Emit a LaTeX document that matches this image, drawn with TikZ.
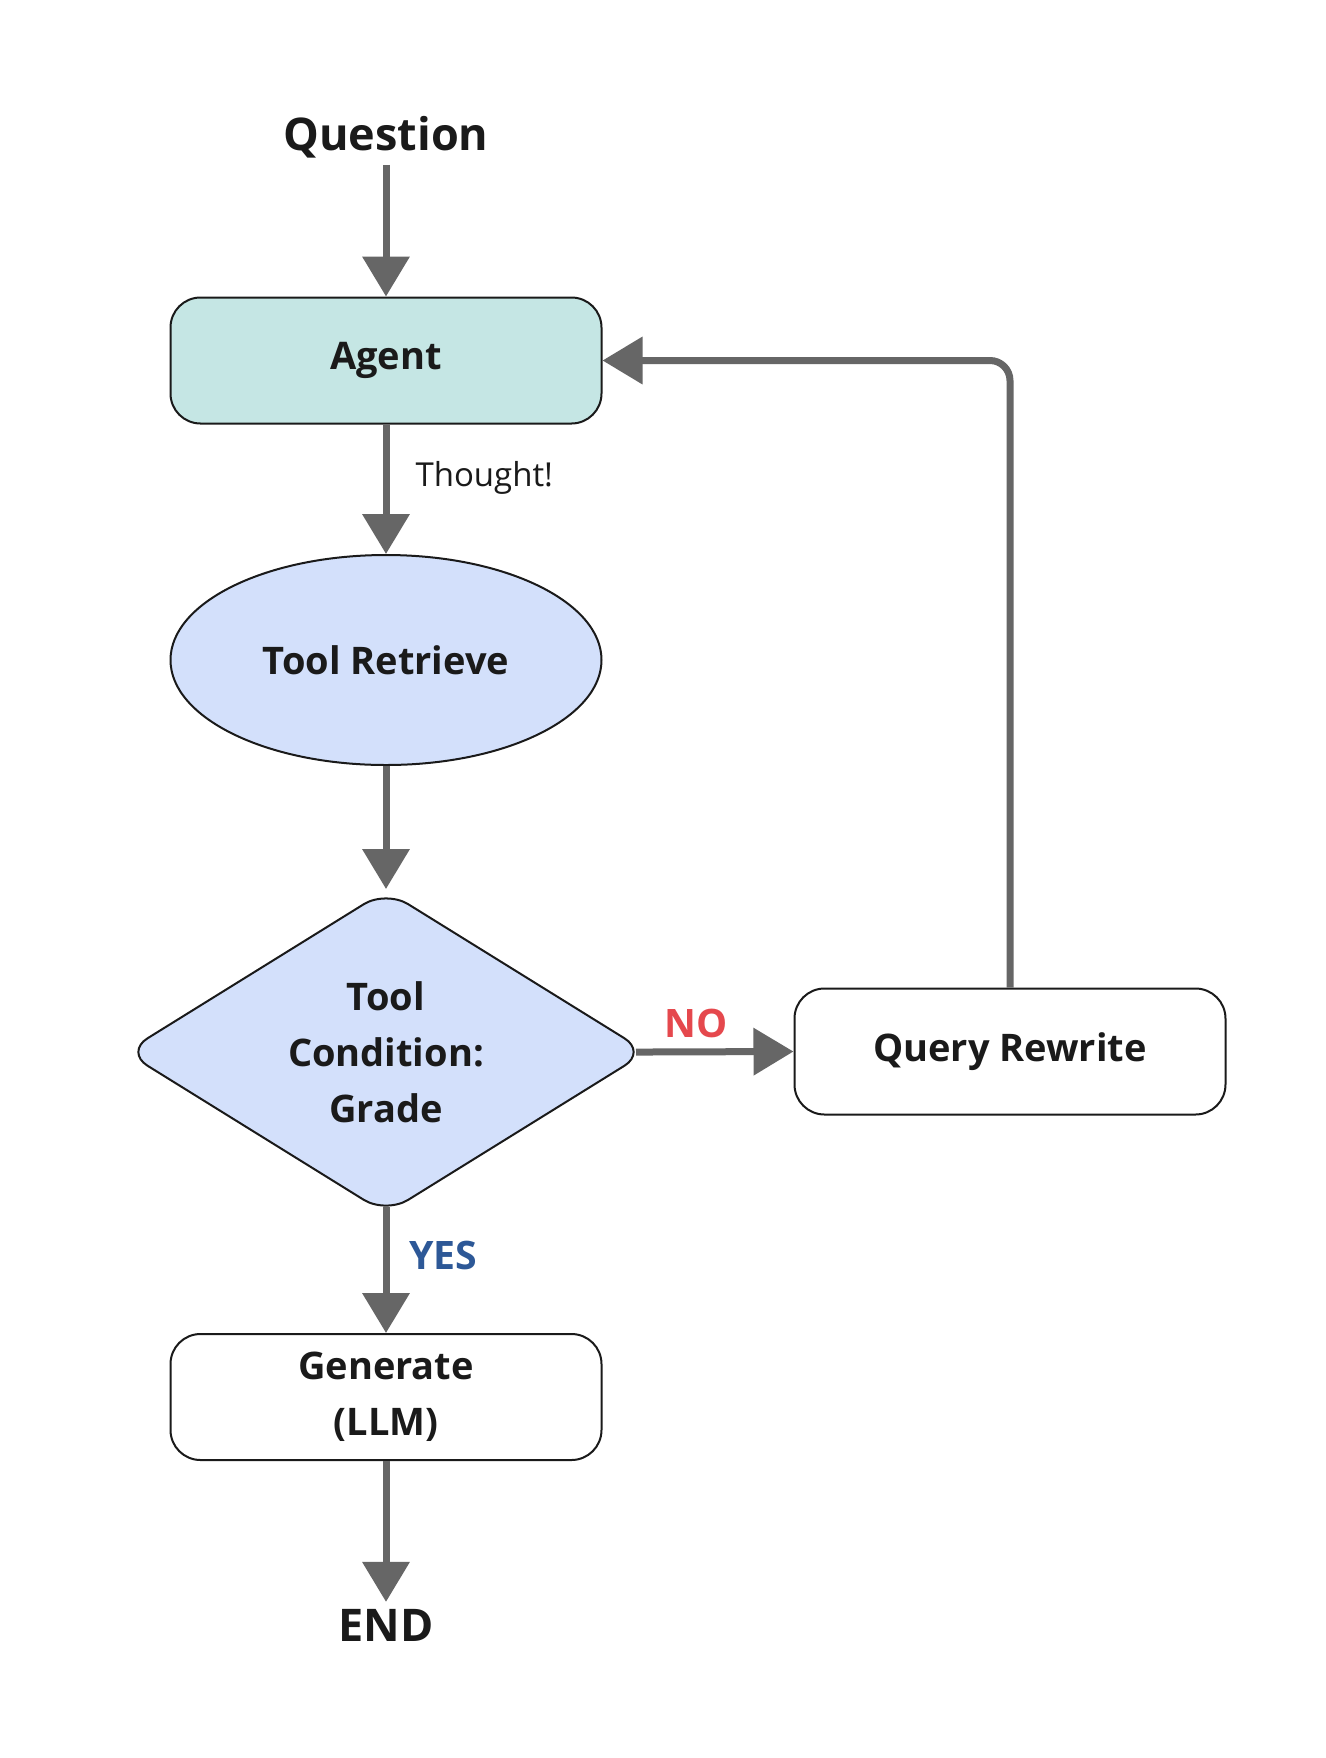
\documentclass[tikz,border=0pt]{standalone}
\usepackage{fontspec}
\setmainfont{Open Sans}
\usetikzlibrary{arrows.meta,shapes.geometric}
\definecolor{flowgray}{HTML}{666666}
\definecolor{inkblack}{HTML}{1A1A1A}
\definecolor{agentteal}{HTML}{C5E6E4}
\definecolor{toolblue}{HTML}{D3E0FB}
\definecolor{nored}{HTML}{E5484D}
\definecolor{yesblue}{HTML}{2D5897}
\begin{document}
\begin{tikzpicture}[x=0.5pt,y=-0.5pt,
  boxfont/.style={font=\fontsize{19}{28}\selectfont\bfseries,text=inkblack,align=center},
  stepbox/.style={boxfont,draw=inkblack,line width=1pt,rounded corners=15pt,
    minimum width=215.5pt,minimum height=63pt,inner sep=0pt},
  flow/.style={draw=flowgray,line width=3.5pt,-{Triangle[width=23pt,length=20pt]}},
  endpoint/.style={font=\fontsize{22.5}{28}\selectfont\bfseries,text=inkblack}]
\useasboundingbox[fill=white] (0,0) rectangle (1326,1758);
\node[endpoint] (question) at (386,137) {Question};
\node[stepbox,fill=agentteal] (agent) at (386,360.5) {Agent};
\node[boxfont,ellipse,draw=inkblack,line width=1pt,fill=toolblue,
  minimum width=215.5pt,minimum height=105pt,inner sep=0pt] (retrieve) at (386,660) {Tool Retrieve};
\node[boxfont,diamond,aspect=1.6,draw=inkblack,line width=1pt,fill=toolblue,rounded corners=13pt,
  minimum width=261pt,minimum height=162pt,inner sep=0pt] (grade) at (386,1052)
  {Tool\\Condition:\\Grade};
\node[stepbox,fill=white] (rewrite) at (1010,1051.5) {Query Rewrite};
\node[stepbox,fill=white] (generate) at (386,1397) {Generate\\(LLM)};
\node[endpoint] (finish) at (386,1625) {END};
\draw[flow] (question) -- (agent);
\draw[flow] (agent) -- node[pos=0.41,right=13pt,inner sep=0pt,
  font=\fontsize{16.5}{18}\selectfont,text=inkblack] {Thought!} (retrieve);
\draw[flow] (retrieve) -- (grade);
\draw[flow,shorten <=-6pt] (grade.east) -- node[pos=0.33,above=5pt,inner sep=0pt,
  font=\fontsize{19.6}{24}\selectfont\bfseries,text=nored] {NO} (rewrite.west);
\draw[flow,shorten <=-4pt] (grade.south) -- node[pos=0.34,right=10pt,inner sep=0pt,
  font=\fontsize{19.6}{24}\selectfont\bfseries,text=yesblue] {YES} (generate.north);
\draw[flow,rounded corners=10pt] (rewrite.north) |- (agent.east);
\draw[flow] (generate) -- (finish);
\end{tikzpicture}
\end{document}
